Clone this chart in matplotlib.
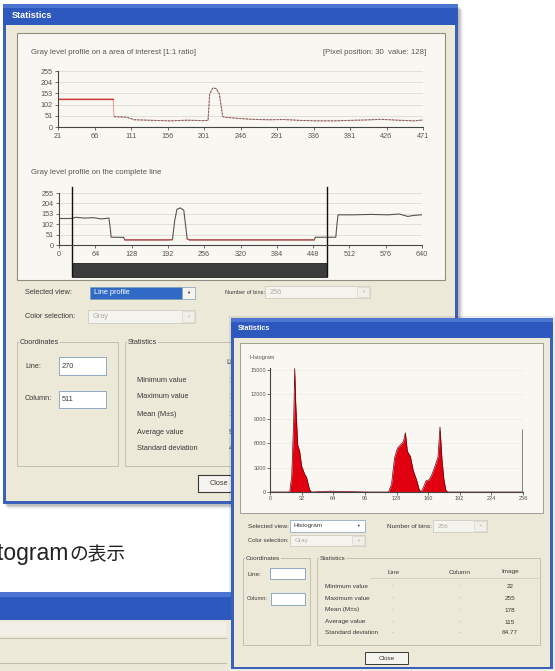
import matplotlib.pyplot as plt
from matplotlib.patches import Rectangle
import matplotlib.transforms as mtransforms
import numpy as np

plt.rcParams['font.family'] = ['Liberation Sans', 'DejaVu Sans']

W, H = 555, 671

# gray level profile on the area of interest (upper chart)
roi_x = [21, 89, 90, 105, 115, 140, 160, 180, 200, 206, 208, 212, 216, 220, 224,
         226, 240, 260, 280, 300, 320, 340, 360, 380, 400, 420, 440, 460, 471]
roi_val = [128, 128, 47, 45, 33, 30, 28, 31, 29, 30, 150, 178, 175, 150, 48,
           45, 40, 35, 33, 34, 30, 28, 28, 30, 32, 35, 31, 28, 32]
roi_ticks = [21, 66, 111, 156, 201, 246, 291, 336, 381, 426, 471]
gray_ticks = [0, 51, 102, 153, 204, 255]

# gray level profile on the complete line
line_x = [0, 22, 30, 45, 60, 75, 88, 90, 92, 100, 114, 116, 150, 190, 200, 204,
          208, 214, 220, 226, 230, 260, 300, 340, 380, 420, 450, 452, 488, 490,
          492, 520, 550, 580, 600, 615, 625, 640]
line_val = [130, 130, 136, 132, 134, 128, 132, 90, 38, 38, 37, 25, 25, 25, 26, 120,
            175, 182, 170, 30, 25, 25, 25, 25, 25, 25, 25, 38, 38, 100,
            148, 148, 150, 148, 152, 140, 145, 148]
line_ticks = [0, 64, 128, 192, 256, 320, 384, 448, 512, 576, 640]
roi_bounds = [23, 472]

# histogram of the image
hist_x = [0, 20, 22, 24, 25, 26, 28, 30, 32, 35, 37, 40, 42, 60, 100, 120, 123,
          126, 129, 132, 135, 137, 139, 142, 145, 148, 151, 153, 156, 158, 161,
          164, 167, 170, 172, 174, 176, 178, 180, 220, 256]
hist_count = [0, 0, 2000, 9000, 15200, 11000, 5800, 5000, 3200, 2200, 1800, 300,
              0, 100, 0, 0, 1000, 4200, 5400, 5800, 6200, 7300, 5000, 4400, 2600,
              1600, 300, 0, 800, 1400, 1500, 2200, 3200, 4300, 8000, 4000, 1500,
              200, 0, 0, 0]
hist_255 = 7800
hist_xticks = [0, 32, 64, 96, 128, 160, 192, 224, 256]
hist_yticks = [0, 3000, 6000, 9000, 12000, 15000]

stat_rows = ['Minimum value', 'Maximum value', 'Mean (M±s)', 'Average value',
             'Standard deviation']
main_stat_vals = ['1', '1', '1', '9', '4']
hist_stat_cols = ['Line', 'Column', 'Image']
hist_stat_vals = ['22', '255', '178', '115', '64.77']

BEIGE = '#ece9d8'
PANEL = '#f9f7f1'
BLUE = '#2d58bd'
TXT = '#3a3a3a'
UI = 5.3     # label size in the main window
UI2 = 4.6    # label size in the histogram window


def px(x0, y0, x1, y1):
    return [x0 / W, 1 - y1 / H, (x1 - x0) / W, (y1 - y0) / H]


def box(ax, x0, y0, x1, y1, fc, ec='none', lw=0.6, alpha=1.0):
    ax.add_patch(Rectangle((x0, y0), x1 - x0, y1 - y0, facecolor=fc,
                           edgecolor=ec, linewidth=lw, alpha=alpha))


def label(ax, x, y, s, size=UI, color=TXT, **kw):
    ax.text(x, y, s, fontsize=size, color=color, va='center', **kw)


def group(ax, x0, y0, x1, y1, title, size=UI):
    box(ax, x0, y0, x1, y1, 'none', ec='#c4c0b0', lw=0.7)
    ax.text(x0 + 3, y0, title, fontsize=size, color=TXT, va='center',
            bbox=dict(fc=BEIGE, ec='none', pad=0.4))


def combo(ax, x0, y0, x1, y1, s, size=UI, active=False):
    ym = (y0 + y1) / 2
    if active:
        box(ax, x0, y0, x1 - 13, y1, '#316ac5', ec='#7f9db9', lw=0.5)
        label(ax, x0 + 4, ym, s, size=size, color='white')
        box(ax, x1 - 13, y0, x1, y1, '#f4f3ee', ec='#7f9db9', lw=0.5)
        label(ax, x1 - 6.5, ym, '▼', size=3, color='#333', ha='center')
    else:
        box(ax, x0, y0, x1, y1, '#f4f3ee', ec='#c9c6b8', lw=0.5)
        label(ax, x0 + 5, ym, s, size=size, color='#b0ad9f')
        box(ax, x1 - 13, y0 + 1, x1 - 1, y1 - 1, '#f0efe8', ec='#d6d3c6', lw=0.4)
        label(ax, x1 - 7, ym, '▼', size=3, color='#c8c5b8', ha='center')


def edit(ax, x0, y0, x1, y1, s, size=UI):
    box(ax, x0, y0, x1, y1, 'white', ec='#7f9db9', lw=0.6)
    label(ax, x0 + 3, (y0 + y1) / 2, s, size=size)


def style(ax, xt, yt, xlim, ylim, size=5.2):
    ax.set_facecolor('none')
    ax.spines['top'].set_visible(False)
    ax.spines['right'].set_visible(False)
    for s in ['left', 'bottom']:
        ax.spines[s].set_color('#444444')
        ax.spines[s].set_linewidth(0.8)
    ax.set_xticks(xt)
    ax.set_yticks(yt)
    ax.set_xlim(*xlim)
    ax.set_ylim(*ylim)
    ax.tick_params(labelsize=size, length=2.5, width=0.6, colors='#555555', pad=1.5)
    ax.grid(axis='y', color='#dedbd2', lw=0.6)
    ax.set_axisbelow(True)


fig = plt.figure(figsize=(W / 100, H / 100), dpi=100)
fig.patch.set_facecolor('white')

bg = fig.add_axes([0, 0, 1, 1], zorder=0)
bg.set_xlim(0, W)
bg.set_ylim(H, 0)
bg.axis('off')

# ---- main statistics window
for i, a in enumerate([0.10, 0.08, 0.06, 0.04]):
    box(bg, 5 + i, 7 + i, 460 + i, 506 + i, '#000000', alpha=a)
box(bg, 3, 4, 458, 504, '#3a60b8')
box(bg, 6, 25, 455, 501, BEIGE)
box(bg, 3, 4, 458, 25, BLUE)
box(bg, 3, 4, 458, 8, '#4b75d0')
label(bg, 12, 15.5, 'Statistics', size=6.5, color='white', weight='bold')

box(bg, 17, 33, 445, 280, PANEL, ec='#8f8d80', lw=0.8)
label(bg, 31, 52, 'Gray level profile on a area of interest [1:1 ratio]', size=5.6,
      color='#555555')
label(bg, 426, 52, '[Pixel position: 30  value: 128]', size=5.6, color='#555555',
      ha='right')
label(bg, 31, 172, 'Gray level profile on the complete line', size=5.6,
      color='#555555')

label(bg, 25, 293, 'Selected view:')
combo(bg, 90, 287, 195, 299, 'Line profile', active=True)
label(bg, 225, 293, 'Number of bins:', size=4.1)
combo(bg, 265, 286, 370, 298, '256')
label(bg, 25, 316, 'Color selection:')
combo(bg, 88, 310, 195, 323, 'Gray')

group(bg, 17, 342, 118, 466, 'Coordinates')
label(bg, 25, 367, 'Line:')
edit(bg, 59, 357, 106, 375, '270')
label(bg, 25, 399, 'Column:')
edit(bg, 59, 391, 106, 408, '511')

group(bg, 125, 342, 448, 466, 'Statistics')
label(bg, 226, 363, 'Line')
for y, name, v in zip([380, 397, 414, 432, 448], stat_rows, main_stat_vals):
    label(bg, 137, y, name)
    label(bg, 229, y, v)
box(bg, 198, 475, 240, 492, '#f4f3ee', ec='#3a3a3a', lw=0.8)
label(bg, 219, 483.5, 'Close', ha='center')

# ---- line profile on area of interest
ax1 = fig.add_axes(px(58, 71, 423, 127), zorder=1)
style(ax1, roi_ticks, gray_ticks, (21, 471), (0, 255))
rx = np.array(roi_x)
rv = np.array(roi_val)
ax1.plot(rx, rv, color='#e07070', lw=0.7, alpha=0.7)
ax1.plot(rx[rx <= 89], rv[rx <= 89], color='#d03838', lw=0.9)
ax1.plot(rx[rx >= 90], rv[rx >= 90], color='#666666', lw=0.7, dashes=(2, 1.5))

# ---- line profile on the complete line
ax2 = fig.add_axes(px(59, 193, 422, 245), zorder=1)
style(ax2, line_ticks, gray_ticks, (0, 640), (0, 255))
lx = np.array(line_x)
lv = np.array(line_val)
ax2.plot(lx, lv, color='#555555', lw=0.8)
low = np.ma.masked_where(lv > 30, lv)
ax2.plot(lx, low, color='#d04848', lw=0.8)
trans = mtransforms.blended_transform_factory(ax2.transData, ax2.transAxes)
for b in roi_bounds:
    ax2.plot([b, b], [-0.6, 1.12], color='#111111', lw=1.0, transform=trans,
             clip_on=False)
ax2.add_patch(Rectangle((roi_bounds[0], -0.615), roi_bounds[1] - roi_bounds[0], 0.27,
                        transform=trans, clip_on=False, facecolor='#3c3c3c',
                        edgecolor='#222222', lw=0.6))

# ---- histogram window (on top)
top = fig.add_axes([0, 0, 1, 1], zorder=2)
top.set_xlim(0, W)
top.set_ylim(H, 0)
top.axis('off')
top.patch.set_visible(False)

box(top, 229, 316, 555, 671, '#000000', alpha=0.08)
box(top, 231, 318, 553, 669, '#3a60b8')
box(top, 234, 338, 550, 667, BEIGE)
box(top, 231, 318, 553, 338, BLUE)
box(top, 231, 318, 553, 322, '#4b75d0')
label(top, 238, 329, 'Statistics', size=5.2, color='white', weight='bold')
box(top, 240, 343, 543, 513, PANEL, ec='#a09e90', lw=0.7)
label(top, 250, 357, 'Histogram', size=4, color='#555555')

label(top, 248, 526, 'Selected view:', size=UI2)
box(top, 290, 520, 365, 532, 'white', ec='#7f9db9', lw=0.5)
label(top, 293, 526, 'Histogram', size=UI2)
label(top, 358, 526, '▼', size=2.6, color='#333', ha='center')
label(top, 387, 526, 'Number of bins:', size=UI2)
combo(top, 433, 520, 487, 532, '256', size=UI2)
label(top, 248, 540, 'Color selection:', size=4.2)
combo(top, 290, 535, 365, 546, 'Gray', size=UI2)

group(top, 243, 558, 310, 645, 'Coordinates', size=UI2)
label(top, 248, 574, 'Line:', size=UI2)
edit(top, 270, 568, 305, 579, '', size=UI2)
label(top, 247, 599, 'Column:', size=4.1)
edit(top, 271, 593, 305, 605, '', size=UI2)

group(top, 317, 558, 540, 645, 'Statistics', size=UI2)
for x, c in zip([393, 460, 510], hist_stat_cols):
    label(top, x, 572, c, size=UI2, ha='center')
top.plot([370, 538], [578, 578], color='#d0ccbe', lw=0.6)
for y, name, v in zip([586, 598, 610, 622, 633], stat_rows, hist_stat_vals):
    label(top, 325, y, name, size=UI2)
    label(top, 393, y, '-', size=UI2, color='#aaaaaa', ha='center')
    label(top, 460, y, '-', size=UI2, color='#aaaaaa', ha='center')
    label(top, 510, y, v, size=UI2, ha='center')
box(top, 365, 652, 408, 664, '#f4f3ee', ec='#3a3a3a', lw=0.7)
label(top, 386.5, 658, 'Close', size=UI2, ha='center')

# ---- third window and caption at lower left
box(top, 0, 592, 231, 620, BLUE)
box(top, 0, 592, 231, 597, '#4b75d0')
box(top, 0, 620, 231, 671, BEIGE)
box(top, 0, 622, 226, 636, '#f3f1e7')
top.plot([0, 226], [638, 638], color='#c4c0ae', lw=0.8)
top.plot([0, 226], [663, 663], color='#c4c0ae', lw=0.8)
top.text(69, 560, 'Histogram', fontsize=16.5, color='#222222', ha='right',
         va='baseline', family=['Liberation Sans', 'DejaVu Sans'])
top.text(69, 560, 'の表示', fontsize=13.5, color='#222222', ha='left',
         va='baseline', family=['Noto Sans CJK JP', 'DejaVu Sans'])

ax3 = fig.add_axes(px(270, 367.6, 523, 492), zorder=3)
style(ax3, hist_xticks, hist_yticks, (0, 256), (0, 15300), size=4.1)
ax3.tick_params(length=2, pad=1)
ax3.grid(axis='y', color='#ece9e0', lw=0.5)
ax3.fill_between(hist_x, hist_count, color='#e00010', lw=0)
ax3.plot(hist_x, hist_count, color='#6a0008', lw=0.5)
ax3.vlines([255], 0, hist_255, color='#888888', lw=0.8)

fig.savefig('out.png', dpi=100)
